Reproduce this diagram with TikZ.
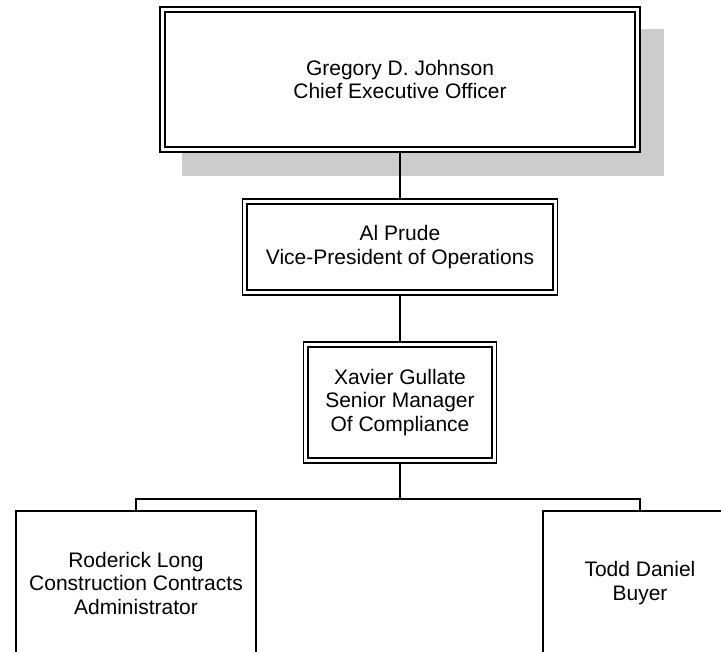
\documentclass[tikz,border=0pt]{standalone}
\usepackage{fontspec}
\setmainfont{Liberation Sans}
\usetikzlibrary{backgrounds}
\definecolor{shadowgray}{HTML}{CCCCCC}
\tikzset{
  orgtext/.style={align=center, font=\fontsize{21}{23.5}\selectfont, inner sep=0pt},
  dbox/.style={orgtext, draw=black, fill=white, line width=1.8pt, double=white, double distance=3pt, outer sep=3.3pt},
  sbox/.style={orgtext, draw=black, fill=white, line width=1.8pt, outer sep=0.9pt},
  link/.style={draw=black, line width=1.8pt}
}
\begin{document}
\begin{tikzpicture}[x=1pt, y=-1pt]
\useasboundingbox (0,0) rectangle (721,652);
\node[dbox, minimum width=475.2pt, minimum height=140.2pt] (ceo) at (400,79.5) {Gregory D. Johnson\\Chief Executive Officer};
\node[dbox, minimum width=310.2pt, minimum height=91.2pt] (vp) at (400,247) {Al Prude\\Vice-President of Operations};
\node[dbox, minimum width=188.2pt, minimum height=116.2pt] (xg) at (400,402.5) {Xavier Gullate\\Senior Manager\\Of Compliance};
\node[sbox, minimum width=240pt, minimum height=144pt] (rl) at (136,583) {Roderick Long\\Construction Contracts\\Administrator};
\node[sbox, minimum width=194pt, minimum height=144pt] (td) at (640,583) {Todd Daniel\\Buyer};
\coordinate (bus) at (400,499);
\begin{scope}[on background layer]
  \fill[shadowgray] ([shift={(23,23)}]ceo.north west) rectangle ([shift={(23,23)}]ceo.south east);
  \draw[link] (ceo.south) -- (vp.north);
\end{scope}
\draw[link] (vp.south) -- (xg.north);
\draw[link] (xg.south) -- (bus);
\draw[link] (rl.north) |- (bus) -| (td.north);
\end{tikzpicture}
\end{document}
